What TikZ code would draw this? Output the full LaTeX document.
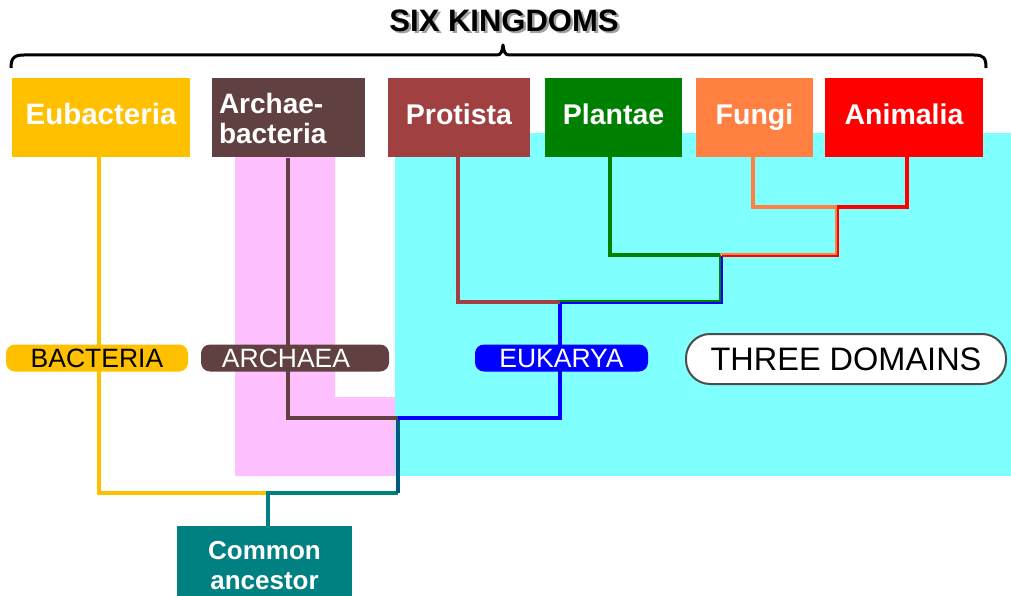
\documentclass[tikz,border=0pt]{standalone}
\usepackage{fontspec}
\setmainfont{Liberation Sans}
\definecolor{eubC}{HTML}{FFC000}
\definecolor{arcC}{HTML}{604040}
\definecolor{proC}{HTML}{A04040}
\definecolor{plaC}{HTML}{008000}
\definecolor{funC}{HTML}{FF8040}
\definecolor{aniC}{HTML}{FF0000}
\definecolor{cyanC}{HTML}{80FFFF}
\definecolor{pinkC}{HTML}{FFC0FF}
\definecolor{tealC}{HTML}{008080}
\definecolor{tealD}{HTML}{005A80}
\definecolor{blueC}{HTML}{0000FF}
\definecolor{shadowC}{HTML}{A0A0A0}
\begin{document}
\begin{tikzpicture}[x=1pt,y=-1pt,
  kbox/.style={draw=none, inner sep=0pt, minimum height=79pt, text=white,
    text height=21pt, text depth=6pt,
    font=\fontsize{28.5}{30}\selectfont\bfseries},
  dom/.style={rounded corners=9pt, inner sep=0pt, minimum height=27pt,
    text height=19pt, text depth=0pt,
    font=\fontsize{26.5}{28}\selectfont},
  lk/.style={line width=4.5pt, line join=miter},
  hk/.style={line width=2.6pt, line join=miter},
]
\useasboundingbox (0,0) rectangle (1011,596);
% background regions
\fill[cyanC] (395,133) rectangle (1011,476);
\fill[pinkC] (235,157) -- (335,157) -- (335,397) -- (395,397) -- (395,476) -- (235,476) -- cycle;

% title with shadow, and brace
\node[text=black, font=\fontsize{31}{33}\selectfont\bfseries] (title) at (504,22)
  {\rlap{\kern2.5pt\raisebox{-2.5pt}{\textcolor{shadowC}{SIX KINGDOMS}}}SIX KINGDOMS};
\draw[line width=3pt, line join=round]
  (11,68) .. controls (11,58) and (14,55) .. (24,55) -- (497,55)
  .. controls (501,55) and (502,52) .. (503,45)
  .. controls (504,52) and (505,55) .. (509,55) -- (974,55)
  .. controls (984,55) and (986,58) .. (986,68);

% kingdom boxes
\node[kbox, fill=eubC, minimum width=178pt, font=\fontsize{29.5}{30}\selectfont\bfseries] (eub) at (101,117.5) {Eubacteria};
\node[kbox, fill=arcC, text width=139pt, inner xsep=7pt, align=left, text height=,
      text depth=, font=\fontsize{28}{30}\selectfont\bfseries] (arc) at (288.5,118) {Archae-\\bacteria};
\node[kbox, fill=proC, minimum width=142pt] (pro) at (459,117.5) {Protista};
\node[kbox, fill=plaC, minimum width=137pt] (pla) at (613.5,117.5) {Plantae};
\node[kbox, fill=funC, minimum width=117pt] (fun) at (754.5,117.5) {Fungi};
\node[kbox, fill=aniC, minimum width=158pt] (ani) at (904,117.5) {Animalia};

% common ancestor
\node[kbox, fill=tealC, minimum width=175pt, minimum height=80pt, align=center,
      text height=, text depth=,
      font=\fontsize{26}{30}\selectfont\bfseries] (ca) at (264.5,566) {Common\\ancestor};

% junction coordinates
\coordinate (cB) at (99,493);
\coordinate (jR) at (268,493);
\coordinate (cT) at (398,493);
\coordinate (cA) at (288,418);
\coordinate (jAE) at (398,418);
\coordinate (cE) at (560,418);
\coordinate (jE) at (560,302);
\coordinate (cP) at (458,302);
\coordinate (cPl) at (721,302);
\coordinate (jPFA) at (721,255);
\coordinate (cG) at (610,255);
\coordinate (cFA) at (837,255);
\coordinate (jFA) at (837,207);
\coordinate (cF) at (753,207);
\coordinate (cAn) at (907,207);

% branches
\draw[lk, eubC] (eub.south -| cB) -- (cB) -- (jR);
\draw[lk, tealC] (ca.north -| jR) -- (jR) -- (cT);
\draw[lk, tealD] (cT) -- (jAE);
\draw[lk, arcC] (arc.south -| cA) -- (cA) -- (jAE);
\draw[lk, blueC] (jAE) -- (cE) -- (jE);
\draw[lk, proC] (pro.south -| cP) -- (cP) -- (jE);
\draw[hk, plaC, transform canvas={xshift=-1pt, yshift=1pt}] (jE) -- (cPl) -- (jPFA);
\draw[hk, blueC, transform canvas={xshift=1pt, yshift=-1pt}] (jE) -- (cPl) -- (jPFA);
\draw[lk, plaC] (pla.south -| cG) -- (cG) -- (jPFA);
\draw[hk, funC, transform canvas={xshift=-1pt, yshift=1pt}] (jPFA) -- (cFA) -- (jFA);
\draw[hk, aniC, transform canvas={xshift=1pt, yshift=-1pt}] (jPFA) -- (cFA) -- (jFA);
\draw[lk, funC] (fun.south -| cF) -- (cF) -- (jFA);
\draw[lk, aniC] (ani.south -| cAn) -- (cAn) -- (jFA);

% domain labels
\node[dom, fill=eubC, text=black, minimum width=182pt] (bac) at (97,358) {BACTERIA};
\node[dom, fill=arcC, text=white, minimum width=188pt] (arch) at (295,358) {\kern-18pt ARCHAEA};
\node[dom, fill=blueC, text=white, minimum width=173pt] (euk) at (561.5,358) {EUKARYA};
\node[draw=black!70, line width=2pt, fill=white, rounded corners=24pt, inner sep=0pt,
      minimum width=320pt, minimum height=50pt, text height=23pt, text depth=0pt,
      font=\fontsize{32.5}{34}\selectfont] (three) at (846,359) {THREE DOMAINS};
\end{tikzpicture}
\end{document}
